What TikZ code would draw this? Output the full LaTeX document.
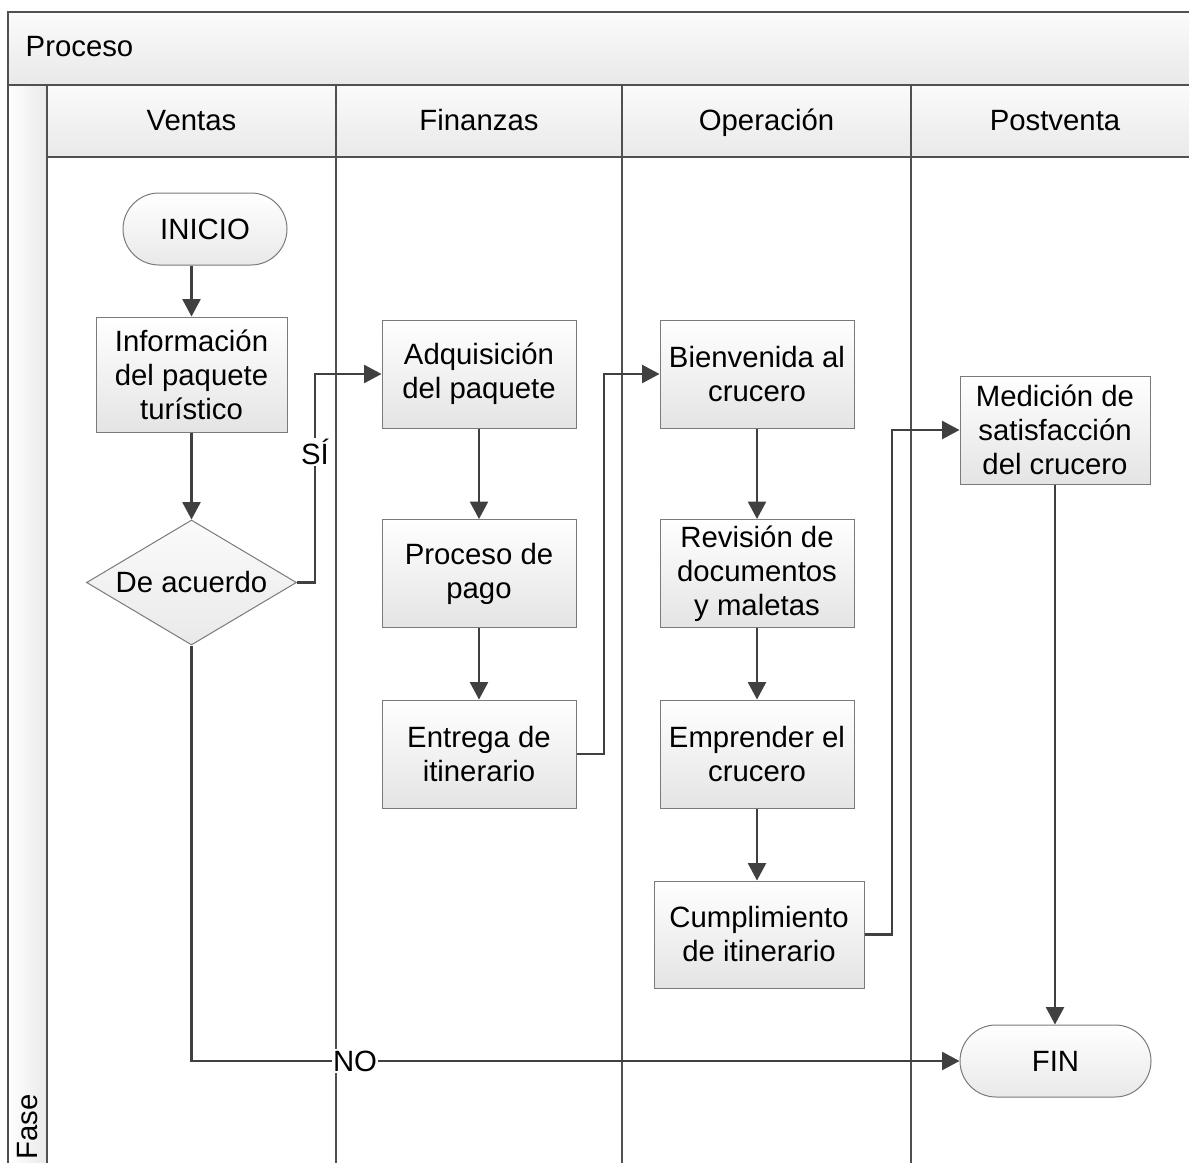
\documentclass[tikz,border=0pt]{standalone}
\usepackage{fontspec}
\setmainfont{Liberation Sans}
\usetikzlibrary{arrows.meta,shapes.geometric}
\definecolor{boxline}{HTML}{7A7A7A}
\definecolor{boxbot}{HTML}{E4E4E4}
\definecolor{flowc}{HTML}{404040}
\definecolor{lanec}{HTML}{505050}
\definecolor{hdtop}{HTML}{FBFBFB}
\definecolor{hdbot}{HTML}{E9E9E9}
\begin{document}
\begin{tikzpicture}[x=0.75pt,y=-0.75pt,
 every node/.style={font=\fontsize{22}{25.5}\selectfont},
 proc/.style={draw=boxline, line width=0.75pt, top color=white, bottom color=boxbot,
   align=center, inner sep=0pt, minimum width=145.5pt, minimum height=81pt},
 term/.style={proc, bottom color=hdbot, rounded corners=27pt, minimum height=54pt},
 dec/.style={diamond, aspect=1.68, draw=boxline, line width=0.75pt, top color=hdtop, bottom color=hdbot,
   inner sep=0pt, minimum width=157.5pt, minimum height=93.75pt},
 flow/.style={draw=flowc, line width=1.6pt, -{Triangle[length=13pt,width=13.5pt]}},
 lane/.style={draw=lanec, line width=1.1pt},
 lbl/.style={fill=white, inner sep=1pt}
]
\useasboundingbox (0,0) rectangle (1189,1163);
\clip (0,0) rectangle (1189,1163);
% frame
\shade[top color=hdtop, bottom color=hdbot] (8,12) rectangle (1210,85);
\shade[top color=hdtop, bottom color=hdbot] (47,85) rectangle (1210,157);
\shade[left color=white, right color=hdbot] (8,85) rectangle (47,1175);
\draw[lane] (8,1175) -- (8,12) -- (1210,12);
\draw[lane] (8,85) -- (1210,85);
\draw[lane] (47,157) -- (1210,157);
\foreach \xx in {47,336,622,911} \draw[lane] (\xx,85) -- (\xx,1175);
\node[anchor=base west] (tproc) at (21,57) {Proceso};
\node[anchor=base] (tven) at (191.5,130) {Ventas};
\node[anchor=base] (tfin) at (479,130) {Finanzas};
\node[anchor=base] (tope) at (766.5,130) {Operación};
\node[anchor=base] (tpos) at (1055,130) {Postventa};
\node[rotate=90, anchor=base west] (tfase) at (37,1164) {Fase};
% nodes
\node[term, minimum width=123pt] (inicio) at (205,229) {INICIO};
\node[proc, minimum width=143.25pt, minimum height=86.25pt] (info) at (191.5,374.5) {Información\\del paquete\\turístico};
\node[dec] (dec) at (191.5,582.5) {De acuerdo};
\node[proc] (adq) at (479,374) {Adquisición\\del paquete};
\node[proc] (pago) at (479,573.5) {Proceso de\\pago};
\node[proc] (ent) at (479,754) {Entrega de\\itinerario};
\node[proc] (bien) at (757,374) {Bienvenida al\\crucero};
\node[proc] (rev) at (757,573.5) {Revisión de\\documentos\\y maletas};
\node[proc] (emp) at (757,754) {Emprender el\\crucero};
\node[proc, minimum width=157.5pt, minimum height=80.25pt] (cum) at (759,934.5) {Cumplimiento\\de itinerario};
\node[proc, minimum width=142.5pt] (med) at (1055,430) {Medición de\\satisfacción\\del crucero};
\node[term, minimum width=143.25pt] (fin) at (1055.5,1061) {FIN};
% connectors
\draw[flow] (info.north |- inicio.south) -- (info.north);
\draw[flow] (info) -- (dec);
\coordinate (sj) at (315,0);
\draw[flow] (dec.east) -- (dec.east -| sj) -- (adq.west -| sj) -- (adq.west);
\node[lbl] (si) at (315,452) {SÍ};
\draw[flow] (adq) -- (pago);
\draw[flow] (pago) -- (ent);
\coordinate (ej) at (604,0);
\draw[flow] (ent.east) -- (ent.east -| ej) -- (bien.west -| ej) -- (bien.west);
\draw[flow] (bien.south -| rev.north) -- (rev.north);
\draw[flow] (rev) -- (emp);
\draw[flow] (emp.south) -- (emp.south |- cum.north);
\coordinate (cj) at (892,0);
\draw[flow] (cum.east) -- (cum.east -| cj) -- (med.west -| cj) -- (med.west);
\draw[flow] (med.south) -- (med.south |- fin.north);
\draw[flow] (dec.south) -- (dec.south |- fin.west) -- (fin.west);
\node[lbl] (no) at (355,1061) {NO};
\end{tikzpicture}
\end{document}
